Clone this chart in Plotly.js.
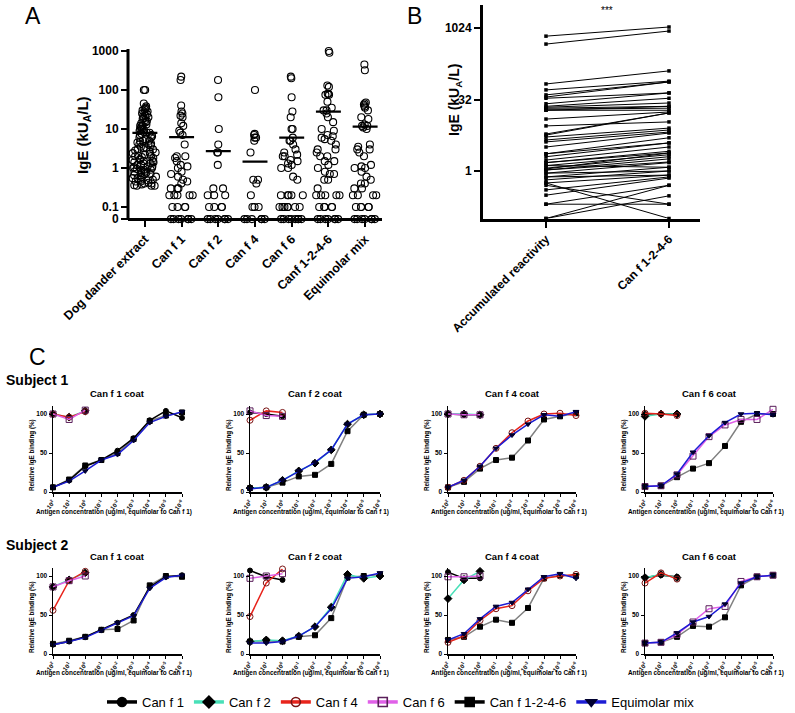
<!DOCTYPE html>
<html><head><meta charset="utf-8">
<script src="https://cdn.plot.ly/plotly-3.0.1.min.js"></script>
<style>html,body{margin:0;padding:0;background:#fff;overflow:hidden;width:795px;height:713px}#chart{width:795px;height:713px;overflow:hidden}</style>
</head><body><div id="chart"></div>
<script>
const FONT = 'Liberation Sans, Arial, Helvetica, sans-serif';
const W = 795, H = 713;

// ---------- Panel A data ----------
const categoriesA = ['Dog dander extract','Can f 1','Can f 2','Can f 4','Can f 6','Canf 1-2-4-6','Equimolar mix'];
const dogDander = [100,100,45,38,35,33,32,30,28,27,25,24,22,21,20,19,18,17,16,15,14,13,12,12,11,10,10,9.5,9,8.5,8,8,7.5,7,7,6.5,6,6,5.5,5,5,4.8,4.5,4.2,4,4,3.8,3.5,3.3,3.2,3,3,2.8,2.6,2.5,2.4,2.3,2.2,2.1,2,2,1.9,1.8,1.7,1.6,1.6,1.5,1.5,1.4,1.4,1.3,1.3,1.2,1.2,1.1,1.1,1.05,1,1,0.95,0.9,0.9,0.85,0.8,0.8,0.75,0.75,0.7,0.7,0.65,0.65,0.6,0.6,0.55,0.55,0.5,0.5,0.48,0.45,0.45,0.42,0.4,0.4,0.38,0.36,0.35,0.35,0.35];
const canf1A = [220,180,40,28,25,22,20,14,12,9,8,7,4,2,2,1.8,1.5,1.2,1.1,1,0.8,0.7,0.6,0.5,0.45,0.4,0.3,0.3,0.3,0.2,0.2,0.2,0.2,0.2,0.1,0.1,0.1,0.1,0,0,0,0,0,0,0];
const canf2A = [180,65,10,4,2.5,2.5,1.2,0.3,0.3,0.2,0.2,0.2,0.1,0.1,0.1,0.1,0,0,0,0,0,0,0];
const canf4A = [100,7.5,7,6,6,5,2.5,0.5,0.5,0.4,0.2,0.1,0.1,0.1,0,0,0,0,0,0];
const canf6A = [220,200,65,28,20,10,10,6,5,5,4,3,2.5,2.2,2,2,1.6,1.5,1.3,1.2,1,1,0.6,0.5,0.2,0.2,0.2,0.2,0.2,0.1,0.1,0.1,0.1,0.1,0.1,0.1,0,0,0,0,0,0,0,0];
const canf1246A = [1000,900,130,120,80,80,75,75,50,35,30,30,25,20,15,10,9,7,6.5,6,5.5,5,4,3,3,2.5,2,2,1.5,1.5,1.2,1,0.8,0.7,0.7,0.5,0.5,0.3,0.2,0.2,0.2,0.2,0.2,0.1,0.1,0.1,0.1,0.1,0,0,0,0,0,0,0];
const equimolarA = [450,320,48,45,42,38,35,30,20,18,13,12,12,11,10,4,3.5,3,3,2.5,2,1.2,1.1,1,1,0.8,0.6,0.5,0.4,0.4,0.3,0.3,0.2,0.2,0.2,0.2,0.1,0.1,0.1,0.1,0.1,0,0,0,0,0,0,0];
const meansA = [8, 6.2, 2.7, 1.45, 6, 28, 11.5];
const yTicksA = [0, 0.1, 1, 10, 100, 1000];
const yTickTextA = ['0','0.1','1','10','100','1000'];

// ---------- Panel B data ----------
const categoriesB = ['Accumulated reactivity','Can f 1-2-4-6'];
const accumulatedB = [690,470,68,51,40,36,34,26,23,22,21,20,19,19,12.4,8.9,6,5.7,5.2,4.5,4.1,3.2,2.3,2.3,2,1.7,1.5,1.5,1.3,1.3,1.15,1.1,1.05,1.05,0.9,0.9,0.75,0.75,0.65,0.56,0.56,0.5,0.4,0.31,0.2,0.2,0.1,0.1];
const canf1246B = [1075,885,128,78,75,75,44,44,34,27,23,21,19,23,17.5,10.8,16.7,16.7,8,7.3,6.6,6.3,5,3.9,3.9,3.2,2.6,2.4,2.2,1.2,2,2.4,1.8,1.55,1.5,1.0,1.2,0.82,1.0,0.82,0.1,0.2,0.75,0.71,0.5,0.2,0.3,0.5];
const yTicksB = [1, 32, 1024];

// ---------- Panel C data ----------
const concentrations = [1e2,1e1,1e0,1e-1,1e-2,1e-3,1e-4,1e-5,1e-6];
const concLabels = ['10<sup>2</sup>','10<sup>1</sup>','10<sup>0</sup>','10<sup>-1</sup>','10<sup>-2</sup>','10<sup>-3</sup>','10<sup>-4</sup>','10<sup>-5</sup>','10<sup>-6</sup>'];
const seriesNames = ['Can f 1','Can f 2','Can f 4','Can f 6','Can f 1-2-4-6','Equimolar mix'];
const coatTitles = ['Can f 1 coat','Can f 2 coat','Can f 4 coat','Can f 6 coat'];
const subjects = ['Subject 1','Subject 2'];

// Subject 1, Can f 1 coat
const s1c1_canf1 = [6,15,33,41,53,69,92,104,95];
const s1c1_canf2 = [100,96,104];
const s1c1_canf4 = [100,96,103];
const s1c1_canf6 = [100,93,105];
const s1c1_mix4 = [6,16,34,41,50,68,91,98,102];
const s1c1_equi = [6,14,27,41,48,66,89,97,103];
// Subject 1, Can f 2 coat
const s1c2_canf1 = [102,100,97];
const s1c2_canf2 = [5,6,15,27,37,54,87,99,100];
const s1c2_canf4 = [92,104,102];
const s1c2_canf6 = [104,98,97];
const s1c2_mix4 = [5,6,12,20,22,36,78,99,100];
const s1c2_equi = [4,6,15,27,38,54,87,99,100];
// Subject 1, Can f 4 coat
const s1c4_canf1 = [100,99,99];
const s1c4_canf2 = [100,100,99];
const s1c4_canf4 = [6,15,33,56,76,91,100,101,98];
const s1c4_canf6 = [100,99,99];
const s1c4_mix4 = [6,13,30,41,44,66,93,97,101];
const s1c4_equi = [6,15,33,56,73,87,99,97,103];
// Subject 1, Can f 6 coat
const s1c6_canf1 = [100,100,100];
const s1c6_canf2 = [97,100,100];
const s1c6_canf4 = [101,100,98];
const s1c6_canf6 = [7,8,22,46,71,86,93,93,106];
const s1c6_mix4 = [7,8,19,30,37,59,90,100,100];
const s1c6_equi = [7,8,23,51,72,89,100,101,99];
// Subject 2, Can f 1 coat
const s2c1_canf1 = [12,16,22,31,40,50,86,99,101];
const s2c1_canf2 = [86,95,104];
const s2c1_canf4 = [56,94,106];
const s2c1_canf6 = [86,94,100];
const s2c1_mix4 = [13,17,22,31,32,43,88,100,99];
const s2c1_equi = [12,16,21,30,40,49,84,98,101];
// Subject 2, Can f 2 coat
const s2c2_canf1 = [107,99,95];
const s2c2_canf2 = [16,18,17,23,35,60,102,97,100];
const s2c2_canf4 = [48,91,109];
const s2c2_canf6 = [97,100,103];
const s2c2_mix4 = [16,17,16,22,24,46,98,100,102];
const s2c2_equi = [14,14,16,23,35,58,97,99,104];
// Subject 2, Can f 4 coat
const s2c4_canf1 = [105,97,97];
const s2c4_canf2 = [71,95,106];
const s2c4_canf4 = [15,23,43,58,62,81,97,100,102];
const s2c4_canf6 = [99,99,100];
const s2c4_mix4 = [18,22,35,44,40,59,97,101,100];
const s2c4_equi = [18,26,45,61,66,83,99,103,97];
// Subject 2, Can f 6 coat
const s2c6_canf1 = [98,101,99];
const s2c6_canf2 = [98,102,98];
const s2c6_canf4 = [91,104,96];
const s2c6_canf6 = [14,15,25,41,58,61,93,99,101];
const s2c6_mix4 = [14,15,22,36,35,47,88,99,101];
const s2c6_equi = [14,15,27,41,48,64,91,99,101];

const panelCData = [
  [[s1c1_canf1,s1c1_canf2,s1c1_canf4,s1c1_canf6,s1c1_mix4,s1c1_equi],
   [s1c2_canf1,s1c2_canf2,s1c2_canf4,s1c2_canf6,s1c2_mix4,s1c2_equi],
   [s1c4_canf1,s1c4_canf2,s1c4_canf4,s1c4_canf6,s1c4_mix4,s1c4_equi],
   [s1c6_canf1,s1c6_canf2,s1c6_canf4,s1c6_canf6,s1c6_mix4,s1c6_equi]],
  [[s2c1_canf1,s2c1_canf2,s2c1_canf4,s2c1_canf6,s2c1_mix4,s2c1_equi],
   [s2c2_canf1,s2c2_canf2,s2c2_canf4,s2c2_canf6,s2c2_mix4,s2c2_equi],
   [s2c4_canf1,s2c4_canf2,s2c4_canf4,s2c4_canf6,s2c4_mix4,s2c4_equi],
   [s2c6_canf1,s2c6_canf2,s2c6_canf4,s2c6_canf6,s2c6_mix4,s2c6_equi]]
];

// ---------- styles ----------
const seriesStyle = [
  {line:'#000000', sym:'circle',        mcol:'#000000', size:5},
  {line:'#48E0B8', sym:'diamond',       mcol:'#000000', size:6},
  {line:'#E8241C', sym:'circle-open',   mcol:'#7A1414', size:6},
  {line:'#E060E8', sym:'square-open',   mcol:'#5A1E5A', size:6},
  {line:'#808080', sym:'square',        mcol:'#000000', size:5},
  {line:'#1C1CD4', sym:'triangle-down', mcol:'#000030', size:5}
];
const drawOrder = [4, 0, 1, 2, 3, 5];

const px = v => v / W;
const py = v => 1 - v / H;
function note(x, y, text, size, opts) {
  return Object.assign({xref:'paper', yref:'paper', x:px(x), y:py(y), xanchor:'center', yanchor:'middle',
    text:text, showarrow:false, font:{family:FONT, size:size, color:'#000'}}, opts || {});
}

const data = [];
const layout = {
  width: W, height: H, autosize:false,
  margin: {l:0, r:0, t:0, b:0, pad:0, autoexpand:false},
  paper_bgcolor: '#fff', plot_bgcolor: 'rgba(0,0,0,0)',
  font: {family: FONT, color: '#000'},
  showlegend: true,
  legend: {orientation:'h', x: px(102), y: py(687), xanchor:'left', yanchor:'top',
           font:{family:FONT, size:13}, bgcolor:'rgba(0,0,0,0)', traceorder:'normal'},
  annotations: [], shapes: []
};

// ---------- Panel A ----------
const ZERO = Math.pow(10, -1.31);
const seriesA = [dogDander, canf1A, canf2A, canf4A, canf6A, canf1246A, equimolarA];
const pxPerDecA = 39, y1A = 168;
const yPixA = lg => y1A - pxPerDecA * lg;
const rangeA = [-1.45, 3.15];
seriesA.forEach((vals, i) => {
  data.push({type:'box', xaxis:'x', yaxis:'y', x: vals.map(() => i), y: vals.map(v => v === 0 ? ZERO : v),
    boxpoints:'all', jitter:0.95, pointpos:0, width:0.72,
    marker:{symbol:'circle-open', size:7, color:'#000', line:{width:1.1, color:'#000'}},
    line:{width:0, color:'rgba(0,0,0,0)'}, fillcolor:'rgba(0,0,0,0)', showlegend:false, hoverinfo:'skip'});
});
meansA.forEach((m, i) => {
  data.push({type:'scatter', mode:'lines', xaxis:'x', yaxis:'y', x:[i-0.34, i+0.34], y:[m, m],
    line:{color:'#000', width:2.2}, showlegend:false, hoverinfo:'skip', cliponaxis:false});
});
layout.xaxis = {domain:[px(128), px(382)], range:[-0.46, 6.46], anchor:'free', position: py(219),
  showline:true, linewidth:3, linecolor:'#000', ticks:'outside', ticklen:6, tickwidth:2, tickcolor:'#000',
  tickvals: categoriesA.map((c,i)=>i), ticktext: categoriesA, tickangle:-45,
  tickfont:{family:FONT, size:12.5, weight:'bold'}, showgrid:false, zeroline:false, fixedrange:true};
layout.yaxis = {domain:[py(yPixA(rangeA[0])), py(yPixA(rangeA[1]))], type:'log', range: rangeA, anchor:'x',
  showline:false, ticks:'outside', ticklen:6, tickwidth:2, tickcolor:'#000',
  tickvals: yTicksA.map(v => v === 0 ? ZERO : v), ticktext: yTickTextA,
  tickfont:{family:FONT, size:12, weight:'bold'}, showgrid:false, zeroline:false};
layout.shapes.push({type:'line', xref:'paper', yref:'paper', x0:px(128), x1:px(128), y0:py(220), y1:py(49),
  line:{color:'#000', width:3}});
layout.annotations.push(note(84, 135, 'IgE (kU<sub>A</sub>/L)', 15, {textangle:-90, font:{family:FONT, size:15, weight:'bold'}}));
layout.annotations.push(note(33, 16, 'A', 23));

// ---------- Panel B ----------
const bx = [], by = [];
accumulatedB.forEach((v, i) => { bx.push(0, 1, null); by.push(v, canf1246B[i], null); });
data.push({type:'scatter', mode:'lines+markers', xaxis:'x2', yaxis:'y2', x: bx, y: by,
  line:{color:'#000', width:1}, marker:{symbol:'square', size:3.5, color:'#000'},
  showlegend:false, hoverinfo:'skip', cliponaxis:false});
const pxPerDecB = 47.5, y1B = 171;
const yPixB = lg => y1B - pxPerDecB * lg;
const rangeB = [-1.0, 3.49];
layout.xaxis2 = {domain:[px(483), px(700)], range:[-0.512, 1.252], anchor:'y2',
  showline:true, linewidth:3, linecolor:'#000', ticks:'outside', ticklen:6, tickwidth:2, tickcolor:'#000',
  tickvals:[0,1], ticktext: categoriesB, tickangle:-45,
  tickfont:{family:FONT, size:12, weight:'bold'}, showgrid:false, zeroline:false};
layout.yaxis2 = {domain:[py(yPixB(rangeB[0])), py(yPixB(rangeB[1]))], type:'log', range: rangeB, anchor:'x2',
  showline:true, linewidth:3, linecolor:'#000', ticks:'outside', ticklen:6, tickwidth:2, tickcolor:'#000',
  tickvals: yTicksB, ticktext: yTicksB.map(String),
  tickfont:{family:FONT, size:12, weight:'bold'}, showgrid:false, zeroline:false};
layout.annotations.push(note(455, 100, 'IgE (kU<sub>A</sub>/L)', 14, {textangle:-90, font:{family:FONT, size:14, weight:'bold'}}));
layout.annotations.push(note(414, 16, 'B', 23));
layout.annotations.push(note(607, 11, '***', 10, {font:{family:FONT, size:10, color:'#000'}}));

// ---------- Panel C ----------
layout.annotations.push(note(37, 357, 'C', 23));
const colPx = [[53,182],[250,380],[448,576],[645,773]];
const rowZero = [492, 654];
const pxPerPct = 0.78;
const subjLabelY = [380, 545];
const titleY = [393, 556];
const xTitleY = [512, 673];
let ax = 3;
subjects.forEach((s, r) => {
  layout.annotations.push(note(4, subjLabelY[r], s, 14, {xanchor:'left', font:{family:FONT, size:14, weight:'bold'}}));
  coatTitles.forEach((t, c) => {
    const xa = 'x' + ax, ya = 'y' + ax;
    const [l, rr] = colPx[c];
    const cx = (l + rr) / 2;
    layout['xaxis' + ax] = {domain:[px(l), px(rr)], type:'log', range:[2, -6], anchor: ya,
      showline:true, linewidth:1.5, linecolor:'#000', ticks:'outside', ticklen:3, tickwidth:1, tickcolor:'#000',
      tickvals: concentrations, ticktext: concLabels, tickangle:-50,
      tickfont:{family:FONT, size:6, weight:'bold'}, showgrid:false, zeroline:false};
    layout['yaxis' + ax] = {domain:[py(rowZero[r]), py(rowZero[r] - 110 * pxPerPct)], range:[0, 110], anchor: xa,
      showline:true, linewidth:1.5, linecolor:'#000', ticks:'outside', ticklen:3, tickwidth:1, tickcolor:'#000',
      tickvals:[0,50,100], tickfont:{family:FONT, size:6.5, weight:'bold'}, showgrid:false, zeroline:false};
    layout.annotations.push(note(cx, titleY[r], t, 9.5, {font:{family:FONT, size:9.5, weight:'bold'}}));
    layout.annotations.push(note(l + 61, xTitleY[r], 'Antigen concentration (ug/ml, equimolar to Can f 1)', 6.4,
      {font:{family:FONT, size:6.4, weight:'bold'}}));
    layout.annotations.push(note(l - 21, rowZero[r] - 37, 'Relative IgE binding (%)', 6.3,
      {textangle:-90, font:{family:FONT, size:6.3, weight:'bold'}}));
    const set = panelCData[r][c];
    drawOrder.forEach(k => {
      const vals = set[k];
      const st = seriesStyle[k];
      data.push({type:'scatter', mode:'lines+markers', xaxis:xa, yaxis:ya,
        x: concentrations.slice(0, vals.length), y: vals,
        line:{color: st.line, width:1.5},
        marker:{symbol: st.sym, size: st.size, color: st.mcol, line:{width:1, color: st.mcol}},
        showlegend:false, hoverinfo:'skip', cliponaxis:false});
    });
    ax++;
  });
});

// legend entries
seriesNames.forEach((n, k) => {
  const st = seriesStyle[k];
  data.push({type:'scatter', mode:'lines+markers', xaxis:'x3', yaxis:'y3', x:[null], y:[null], name:n,
    line:{color: k === 4 ? '#000' : st.line, width:3.5},
    marker:{symbol: st.sym, size: 9, color: st.mcol, line:{width:1.6, color: st.mcol}},
    showlegend:true, hoverinfo:'skip'});
});

Plotly.newPlot('chart', data, layout, {staticPlot:true});
</script></body></html>
